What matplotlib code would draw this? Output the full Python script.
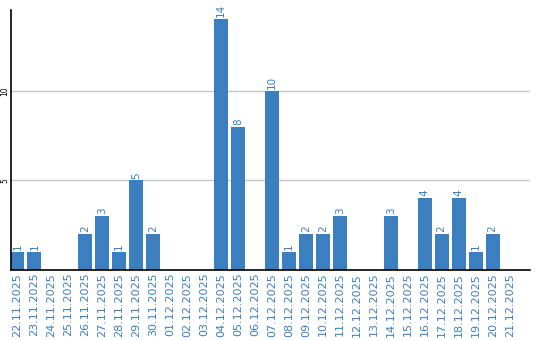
import matplotlib
matplotlib.use('Agg')
import matplotlib.pyplot as plt

dates = ['22.11.2025', '23.11.2025', '24.11.2025', '25.11.2025', '26.11.2025',
         '27.11.2025', '28.11.2025', '29.11.2025', '30.11.2025', '01.12.2025',
         '02.12.2025', '03.12.2025', '04.12.2025', '05.12.2025', '06.12.2025',
         '07.12.2025', '08.12.2025', '09.12.2025', '10.12.2025', '11.12.2025',
         '12.12.2025', '13.12.2025', '14.12.2025', '15.12.2025', '16.12.2025',
         '17.12.2025', '18.12.2025', '19.12.2025', '20.12.2025', '21.12.2025']
counts = [1, 1, 0, 0, 2, 3, 1, 5, 2, 0, 0, 0, 14, 8, 0, 10, 1, 2, 2, 3,
          0, 0, 3, 0, 4, 2, 4, 1, 2, 0]

blue = '#3c7fc1'

fig = plt.figure(figsize=(5.4, 3.4), dpi=100)
ax = fig.add_axes([10.5 / 540, 70 / 340, 519.5 / 540, 260 / 340])

x = list(range(len(dates)))
ax.bar(x, counts, width=0.82, color=blue, zorder=2)
for xi, c in zip(x, counts):
    if c > 0:
        ax.text(xi, c + 0.1, str(c), rotation=90, ha='center', va='bottom',
                color=blue, fontsize=7.5)

ax.set_xlim(-0.41, 30.2)
ax.set_ylim(0, 14.5)
ax.set_xticks(x)
ax.set_xticklabels(dates, rotation=90, color=blue, fontsize=8)
ax.set_yticks([5, 10])
ax.set_yticklabels(['5', '10'], rotation=90, fontsize=5.5, va='center')
ax.tick_params(axis='x', length=0, pad=2)
ax.tick_params(axis='y', length=0, pad=1)
ax.grid(axis='y', color='#c8c8c8', linewidth=1, zorder=0)
for s in ['top', 'right']:
    ax.spines[s].set_visible(False)
ax.spines['left'].set_linewidth(1.2)
ax.spines['bottom'].set_linewidth(1.2)

fig.savefig('out.png', dpi=100)
